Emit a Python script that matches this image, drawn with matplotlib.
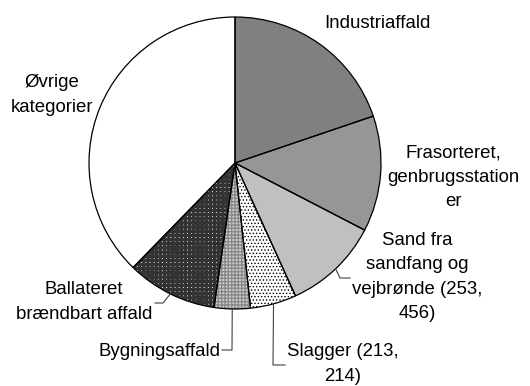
import numpy as np
import matplotlib
matplotlib.use("Agg")
import matplotlib.pyplot as plt

plt.rcParams['font.family'] = ['Liberation Sans', 'DejaVu Sans']

# waste categories, clockwise from 12 o'clock (share of total, %)
categories = ['Industriaffald',
              'Frasorteret,\ngenbrugsstation\ner',
              'Sand fra\nsandfang og\nvejbrønde (253,\n456)',
              'Slagger (213,\n214)',
              'Bygningsaffald',
              'Ballateret\nbrændbart affald',
              'Øvrige\nkategorier']
shares = [19.8, 12.8, 10.6, 5.1, 4.0, 10.0, 37.7]

# fill style per slice: facecolor, hatch, hatch colour, hatch width
fills = [('#808080', '', 'k', 0.8),
         ('#969696', '', 'k', 0.8),
         ('#c0c0c0', '', 'k', 0.8),
         ('#ffffff', '.....', '#000000', 0.6),
         ('#d0d0d0', '+++++', '#888888', 1.0),
         ('#ffffff', '++++', '#333333', 2.3),
         ('#ffffff', '', 'k', 0.8)]

W, H = 530, 386
cx, cy, R = 235, H - 163, 146

fig = plt.figure(figsize=(W / 100, H / 100), dpi=100)
ax = fig.add_axes([0, 0, 1, 1])

# filled / hatched wedges
wedges, _ = ax.pie(shares, startangle=90, counterclock=False,
                   center=(cx, cy), radius=R,
                   wedgeprops=dict(linewidth=0))
for w, (fc, hatch, hc, hlw) in zip(wedges, fills):
    w.set_facecolor(fc)
    w.set_edgecolor(hc)
    w.set_hatch(hatch)
    if hasattr(w, 'set_hatch_linewidth'):
        w.set_hatch_linewidth(hlw)

# black outlines on top
ax.pie(shares, startangle=90, counterclock=False, center=(cx, cy), radius=R,
       wedgeprops=dict(facecolor='none', edgecolor='black', linewidth=0.9))

ax.set_xlim(0, W)
ax.set_ylim(0, H)
ax.set_aspect('auto')
ax.axis('off')

# mid angle of each wedge (degrees, standard orientation)
bounds = 90 - 360 * np.concatenate([[0], np.cumsum(shares)]) / sum(shares)
mids = (bounds[:-1] + bounds[1:]) / 2

# label centre positions (pixels from top-left)
label_pos = [(377, 23), (453, 177), (417, 277), (343, 364),
             (160, 352), (84, 302), (52, 95)]
fs = 13.4
for i, (txt, (x, y)) in enumerate(zip(categories, label_pos)):
    ha = 'center'
    if i == 4:
        ha = 'right'
        x = 221
    ax.text(x, H - y, txt, ha=ha, va='center', fontsize=fs,
            linespacing=1.55, color='black')

# leader lines: wedge edge -> elbow -> label
leaders = {2: [(340, 278), (350, 278)],
           3: [(273, 365), (285, 365)],
           4: [(232, 350), (222, 350)],
           5: [(163, 303), (155, 303)]}
for i, pts in leaders.items():
    a = np.deg2rad(mids[i])
    x0, y0 = cx + R * np.cos(a), cy + R * np.sin(a)
    xs = [x0] + [p[0] for p in pts]
    ys = [y0] + [H - p[1] for p in pts]
    ax.plot(xs, ys, color='#404040', linewidth=0.8)

fig.savefig('out.png', dpi=100)
